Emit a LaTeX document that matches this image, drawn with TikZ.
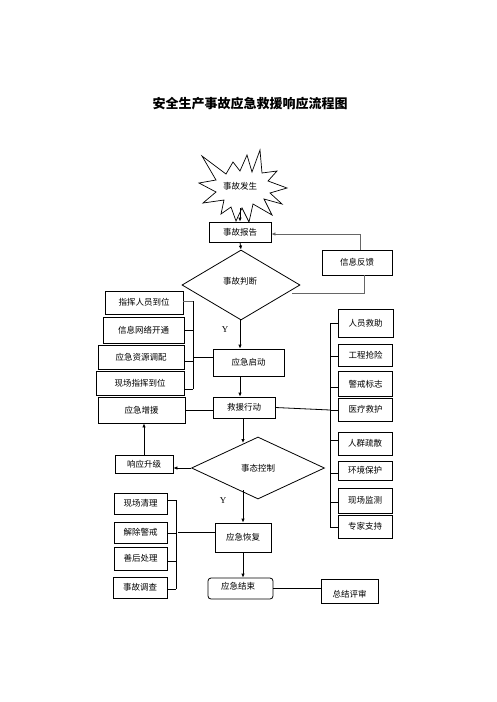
\documentclass[tikz,border=0pt]{standalone}
\usepackage{fontspec}
\setmainfont{Liberation Serif}
\newfontfamily\cjk{Noto Sans CJK SC}
\usetikzlibrary{shapes.geometric,arrows.meta}
\begin{document}
\begin{tikzpicture}[x=1pt,y=-1pt,
  every node/.style={font=\cjk\fontsize{8.5}{10}\selectfont},
  box/.style={draw,rectangle,line width=0.8pt,inner sep=0pt},
  dia/.style={draw,diamond,line width=0.8pt,inner sep=0pt},
  ln/.style={line width=0.8pt},
  gln/.style={line width=0.8pt,draw=black!60},
  arr/.style={line width=0.8pt,-{Latex[length=4pt,width=3.5pt]}},
  lbl/.style={font=\fontsize{9}{10}\selectfont}]
\useasboundingbox (0,0) rectangle (496,702);
% title
\node (title) at (250,104) {\cjk\bfseries\fontsize{13}{15}\selectfont 安全生产事故应急救援响应流程图};
% starburst
\draw[line width=0.7pt] (202,156) -- (226,174) -- (233,162) -- (240,171) -- (247,155) -- (252,172)
  -- (260,150) -- (262,173) -- (277,171) -- (268,181) -- (287,188) -- (270,193) -- (282,204)
  -- (264,199) -- (272,215) -- (253,204) -- (249,222) -- (242,208) -- (236,221) -- (231,207)
  -- (221,214) -- (224,200) -- (203,203) -- (216,192) -- (199,183) -- (216,180) -- cycle;
\node (occur) at (240,186) {事故发生};
\coordinate (starbot) at (240,208);
% boxes
\node[box,minimum width=62pt,minimum height=20pt] (rep) at (240,232) {事故报告};
\node[box,minimum width=70pt,minimum height=25pt] (fb) at (357,262.5) {信息反馈};
\node[dia,minimum width=118pt,minimum height=70pt] (jd) at (241,285) {};
\node (jdt) at (240,281) {事故判断};
\node[box,minimum width=78pt,minimum height=23pt] (l1) at (144,302.5) {指挥人员到位};
\node[box,minimum width=81pt,minimum height=26pt] (l2) at (143.5,330) {信息网络开通};
\node[box,minimum width=86pt,minimum height=24pt] (l3) at (141,357) {应急资源调配};
\node[box,minimum width=88pt,minimum height=24pt] (l4) at (140,383) {现场指挥到位};
\node[box,minimum width=87pt,minimum height=26pt] (zy) at (141.5,410) {应急增援};
\node[box,minimum width=71pt,minimum height=27pt] (start) at (248.5,362.5) {应急启动};
\node[box,minimum width=62pt,minimum height=21pt] (resc) at (244,407.5) {救援行动};
% right boxes
\node[box,minimum width=55pt,minimum height=28pt] (r1) at (365.5,323) {人员救助};
\node[box,minimum width=54pt,minimum height=22pt] (r2) at (365.5,355) {工程抢险};
\node[box,minimum width=54pt,minimum height=25pt] (r3) at (365.5,384) {警戒标志};
\node[box,minimum width=54pt,minimum height=23pt] (r4) at (365.5,409.5) {医疗救护};
\node[box,minimum width=54pt,minimum height=23pt] (r5) at (365,443.5) {人群疏散};
\node[box,minimum width=54pt,minimum height=19pt] (r6) at (365,470.5) {环境保护};
\node[box,minimum width=54pt,minimum height=25pt] (r7) at (365,500.5) {现场监测};
\node[box,minimum width=54pt,minimum height=23pt] (r8) at (365,526.5) {专家支持};
% control
\node[dia,minimum width=133pt,minimum height=62pt] (ctl) at (258,468) {};
\node (ctlt) at (258,468) {事态控制};
\node[box,minimum width=58pt,minimum height=18pt] (up) at (144,464) {响应升级};
\node[box,minimum width=56pt,minimum height=29pt] (rec) at (243,537.5) {应急恢复};
\node[box,rounded corners=3pt,minimum width=65pt,minimum height=21pt] (end) at (240.5,588.5) {};
\node (endt) at (238,586) {应急结束};
\node[box,minimum width=57pt,minimum height=24pt] (sum) at (349.5,591) {};
\node (sumt) at (349.5,594) {总结评审};
% bottom-left boxes
\node[box,minimum width=53pt,minimum height=21pt] (b1) at (140.5,503.5) {现场清理};
\node[box,minimum width=53pt,minimum height=21pt] (b2) at (140.5,532.5) {解除警戒};
\node[box,minimum width=53pt,minimum height=23pt] (b3) at (140.5,558.5) {善后处理};
\node[box,minimum width=54pt,minimum height=21pt] (b4) at (140,587.5) {事故调查};
% labels
\node[lbl] (y1) at (225,330) {Y};
\node[lbl] (y2) at (223,501) {Y};
% coordinates
\coordinate (jdr) at (292,293);
\coordinate (jdc) at (364,293);
\coordinate (fbt) at (360,234);
\coordinate (lb1) at (193,301);
\coordinate (lb2) at (193,389);
\coordinate (lbm) at (193,357);
\coordinate (rb1) at (330,323);
\coordinate (rb2) at (330,527);
\coordinate (rbm) at (330,410);
\coordinate (bb1) at (176,500);
\coordinate (bb2) at (176,589);
\coordinate (bbm) at (176,532);
\coordinate (ctlin) at (243,443);
\coordinate (ctlout) at (243,490);
% connectors
\draw[arr] (starbot) -- (rep.north);
\draw[arr] (rep.south) -- (jd.north);
\draw[gln] (jdr) -- (jdc) -- (jdc |- fb.south);
\draw[arr,draw=black!60] (fb.north -| fbt) -- (fbt) -- (rep.east |- fbt);
\draw[arr] (jd.south -| 240,0) -- (start.north -| 240,0);
\draw[gln] (l1.east |- lb1) -- (lb1);
\draw[ln] (lb1) -- (lb2);
\draw[ln] (l2.east) -- (l2.east -| lb1);
\draw[ln] (l3.east |- 0,361) -- (193,361);
\draw[ln] (l4.east |- lb2) -- (lb2);
\draw[ln] (lbm) -- (start.west |- lbm);
\draw[arr] (start.south -| 240,0) -- (resc.north -| 240,0);
\draw[ln] (zy.east) -- (resc.west |- zy.east);
\draw[ln] (resc.east) -- (rbm);
\draw[ln] (rb1) -- (rb2);
\draw[ln] (rb1) -- (r1.west |- rb1);
\draw[ln] (330,356) -- (r2.west |- 0,356);
\draw[ln] (330,387) -- (r3.west |- 0,387);
\draw[ln] (330,410) -- (r4.west |- 0,410);
\draw[ln] (330,440) -- (r5.west |- 0,440);
\draw[ln] (330,473) -- (r6.west |- 0,473);
\draw[ln] (330,502) -- (r7.west |- 0,502);
\draw[ln] (rb2) -- (r8.west |- rb2);
\draw[arr] (resc.south -| ctlin) -- (ctlin);
\draw[arr] (ctl.west) -- (up.east |- ctl.west);
\draw[arr] (up.north) -- (zy.south -| up.north);
\draw[arr] (ctlout) -- (rec.north -| ctlout);
\draw[ln] (bb1) -- (bb2);
\draw[ln] (b1.east |- bb1) -- (bb1);
\draw[ln] (b2.east |- 0,533) -- (176,533);
\draw[ln] (b3.east |- 0,561) -- (176,561);
\draw[ln] (b4.east |- bb2) -- (bb2);
\draw[ln] (178,532) -- (rec.west |- 0,532);
\draw[arr] (rec.south) -- (end.north -| rec.south);
\draw[ln] (end.east |- 0,588) -- (sum.west |- 0,588);
\end{tikzpicture}
\end{document}
